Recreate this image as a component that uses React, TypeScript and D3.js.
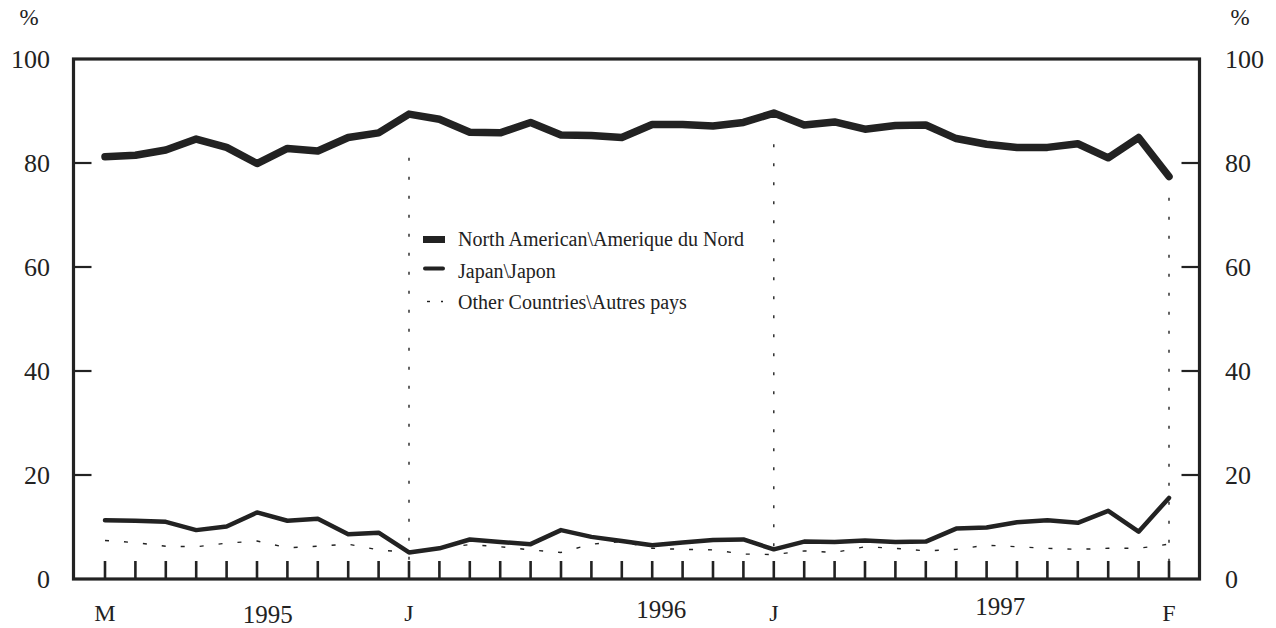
import * as React from 'react';
import * as d3 from 'd3';

// monthly shares, March 1995 .. February 1998 (36 months)
const northAmerican = [
    81.2, 81.5, 82.5, 84.6, 83.0, 79.9, 82.8, 82.3, 84.9, 85.8,
    89.4, 88.4, 85.9, 85.8, 87.8, 85.4, 85.3, 84.9, 87.4, 87.4,
    87.1, 87.8, 89.6, 87.3, 87.9, 86.5, 87.2, 87.3, 84.7, 83.6,
    83.0, 83.0, 83.7, 81.0, 84.9, 77.4
];
const japan = [
    11.3, 11.2, 11.0, 9.4, 10.1, 12.8, 11.2, 11.6, 8.6, 8.9,
    5.1, 5.9, 7.6, 7.1, 6.7, 9.4, 8.1, 7.3, 6.5, 7.0,
    7.5, 7.6, 5.7, 7.2, 7.1, 7.4, 7.1, 7.2, 9.7, 9.9,
    10.9, 11.3, 10.8, 13.1, 9.1, 15.6
];
const otherCountries = [
    7.4, 7.0, 6.3, 6.2, 6.9, 7.3, 6.0, 6.3, 6.7, 5.6,
    5.1, 6.0, 6.6, 6.2, 5.6, 5.1, 6.7, 7.2, 5.9, 5.7,
    5.6, 4.8, 4.7, 5.4, 5.1, 6.2, 5.9, 5.4, 5.7, 6.5,
    6.2, 5.9, 5.7, 5.9, 5.9, 6.7
];

const yTicks = [0, 20, 40, 60, 80, 100];
const monthLabels = [
    { i: 0, text: 'M' },
    { i: 10, text: 'J' },
    { i: 22, text: 'J' },
    { i: 35, text: 'F' },
];
const yearLabels = [
    { i: 5.35, text: '1995' },
    { i: 18.3, text: '1996' },
    { i: 29.45, text: '1997' },
];
// dotted drop lines: month index and the value where they stop
const dropLines = [
    { i: 10, top: 81 },
    { i: 22, top: 83.6 },
    { i: 35, top: 73.3 },
];
const legendItems = [
    'North American\\Amerique du Nord',
    'Japan\\Japon',
    'Other Countries\\Autres pays',
];

const W = 1276;
const H = 628;
const frame = { left: 73.5, right: 1199.5, top: 59, bottom: 579 };
const ink = '#222';
const font = '"Liberation Serif", "Times New Roman", serif';

const months = d3.range(northAmerican.length);

const xScale = d3.scaleLinear()
    .domain([0, months.length - 1])
    .range([105, 1169]);

const yScale = d3.scaleLinear()
    .domain([0, 100])
    .range([frame.bottom, frame.top]);

const line = d3.line<number>()
    .x((_, i) => xScale(i))
    .y(d => yScale(d));

const yearDy = [623, 618, 615];
const legendRows = [246, 277.5, 309];

export default function App() {
    return (
        <svg
            width={W}
            height={H}
            style={{ position: 'absolute', left: 0, top: 0, background: '#fff' }}
            fontFamily={font}
        >
            {/* y labels */}
            <text x={29} y={25} fontSize={23} textAnchor="middle" fill={ink}>%</text>
            <text x={1240} y={25} fontSize={23} textAnchor="middle" fill={ink}>%</text>
            {yTicks.map(t => (
                <g key={t}>
                    <text x={50} y={yScale(t) + 8.5} fontSize={26} textAnchor="end" fill={ink}>{t}</text>
                    <text x={1225} y={yScale(t) + 8.5} fontSize={26} textAnchor="start" fill={ink}>{t}</text>
                    {t > 0 && t < 100 && (
                        <>
                            <line x1={frame.left} x2={frame.left + 18} y1={yScale(t)} y2={yScale(t)} stroke={ink} strokeWidth={2.2} />
                            <line x1={frame.right - 18} x2={frame.right} y1={yScale(t)} y2={yScale(t)} stroke={ink} strokeWidth={2.2} />
                        </>
                    )}
                </g>
            ))}

            {/* month ticks */}
            {months.map(i => (
                <line key={i} x1={xScale(i)} x2={xScale(i)} y1={frame.bottom - 18} y2={frame.bottom}
                    stroke={ink} strokeWidth={2.6} />
            ))}

            {/* drop lines */}
            {dropLines.map(d => (
                <line key={d.i} x1={xScale(d.i)} x2={xScale(d.i)} y1={yScale(d.top)} y2={frame.bottom}
                    stroke={ink} strokeWidth={1.4} strokeDasharray="3 16" />
            ))}

            {/* series */}
            <path d={line(otherCountries)!} fill="none" stroke={ink} strokeWidth={1.4} strokeDasharray="4 15" />
            <path d={line(japan)!} fill="none" stroke={ink} strokeWidth={4.5} strokeLinejoin="round" strokeLinecap="round" />
            <path d={line(northAmerican)!} fill="none" stroke={ink} strokeWidth={7.5} strokeLinejoin="round" strokeLinecap="round" />

            {/* frame */}
            <rect x={frame.left} y={frame.top} width={frame.right - frame.left} height={frame.bottom - frame.top}
                fill="none" stroke={ink} strokeWidth={3.2} />

            {/* x labels */}
            {monthLabels.map(m => (
                <text key={m.i} x={xScale(m.i)} y={621} fontSize={24} textAnchor="middle" fill={ink}>{m.text}</text>
            ))}
            {yearLabels.map((yl, k) => (
                <text key={yl.text} x={xScale(yl.i)} y={yearDy[k]} fontSize={25} textAnchor="middle" fill={ink}>{yl.text}</text>
            ))}

            {/* legend */}
            <rect x={423} y={236} width={22} height={7} fill={ink} />
            <line x1={425} x2={443} y1={268.5} y2={268.5} stroke={ink} strokeWidth={4} strokeLinecap="round" />
            <line x1={427} x2={430} y1={301.5} y2={301.5} stroke={ink} strokeWidth={1.4} />
            <line x1={441} x2={443} y1={301.5} y2={301.5} stroke={ink} strokeWidth={1.4} />
            {legendItems.map((t, k) => (
                <text key={t} x={458} y={legendRows[k]} fontSize={20} fill={ink}>{t}</text>
            ))}
        </svg>
    );
}
